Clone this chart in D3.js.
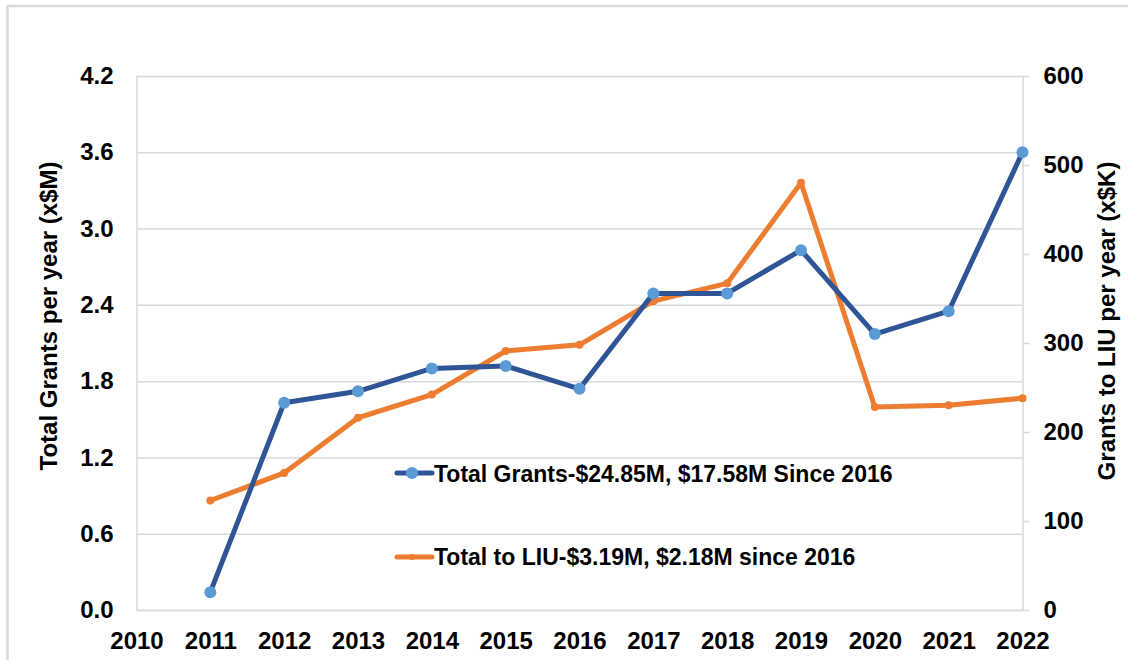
<!DOCTYPE html>
<html>
<head>
<meta charset="utf-8">
<script src="https://cdn.jsdelivr.net/npm/d3@7"></script>
<style>
  html, body { margin: 0; padding: 0; background: #fff; }
  svg { display: block; font-family: "Liberation Sans", Arial, sans-serif; }
</style>
</head>
<body>
<svg id="chart" width="1128" height="660"></svg>
<script>
// ---- Data ----
const years = [2011, 2012, 2013, 2014, 2015, 2016, 2017, 2018, 2019, 2020, 2021, 2022];
const totalGrants = [0.14, 1.63, 1.72, 1.90, 1.92, 1.74, 2.49, 2.49, 2.83, 2.17, 2.35, 3.60]; // x$M
const liuGrants = [123, 154, 216, 242, 291, 298, 347, 367, 480, 228, 230, 238]; // x$K
const xTicks = [2010, 2011, 2012, 2013, 2014, 2015, 2016, 2017, 2018, 2019, 2020, 2021, 2022];
const leftTicks = [0, 0.6, 1.2, 1.8, 2.4, 3.0, 3.6, 4.2];
const rightTicks = [0, 100, 200, 300, 400, 500, 600];
const seriesNames = ["Total Grants-$24.85M, $17.58M Since 2016", "Total to LIU-$3.19M, $2.18M since 2016"];
const leftTitle = "Total Grants per year (x$M)";
const rightTitle = "Grants to LIU per year (x$K)";

// ---- Layout ----
const svg = d3.select("#chart");
const L = 136.5, R = 1022.5, T = 76, B = 610;
const grid = "#d9d9d9";
const blue = "#2F5597", blueMk = "#5B9BD5", orange = "#ED7D31";

const x = d3.scaleLinear().domain([2010, 2022]).range([L, R]);
const yL = d3.scaleLinear().domain([0, 4.2]).range([B, T]);
const yR = d3.scaleLinear().domain([0, 600]).range([B, T]);

// outer frame
svg.append("rect").attr("x", 7.5).attr("y", 6).attr("width", 1200).attr("height", 700)
  .attr("fill", "none").attr("stroke", "#d9d9d9").attr("stroke-width", 2.5);

// gridlines
svg.append("g").attr("transform", `translate(${L},0)`)
  .call(d3.axisLeft(yL).tickValues(leftTicks).tickSize(-(R - L)).tickFormat(""))
  .call(g => g.select(".domain").remove())
  .call(g => g.selectAll("line").attr("stroke", grid).attr("stroke-width", 1.5));

// left axis
svg.append("g").attr("transform", `translate(${L},0)`)
  .call(d3.axisLeft(yL).tickValues(leftTicks).tickSize(0).tickPadding(23).tickFormat(d3.format(".1f")))
  .call(g => g.select(".domain").attr("stroke", grid).attr("stroke-width", 1.5))
  .call(g => g.selectAll("text").attr("font-size", 24).attr("font-weight", "bold").attr("fill", "#000")
    .attr("font-family", "Liberation Sans, Arial, sans-serif"));

// right axis
svg.append("g").attr("transform", `translate(${R},0)`)
  .call(d3.axisRight(yR).tickValues(rightTicks).tickSize(7).tickSizeOuter(0).tickPadding(14))
  .call(g => g.select(".domain").attr("stroke", grid).attr("stroke-width", 1.5))
  .call(g => g.selectAll("line").attr("stroke", grid).attr("stroke-width", 1.5))
  .call(g => g.selectAll("text").attr("font-size", 24).attr("font-weight", "bold").attr("fill", "#000")
    .attr("font-family", "Liberation Sans, Arial, sans-serif"));

// bottom axis
svg.append("g").attr("transform", `translate(0,${B})`)
  .call(d3.axisBottom(x).tickValues(xTicks).tickSize(0).tickPadding(22).tickFormat(d3.format("d")))
  .call(g => g.select(".domain").attr("stroke", grid).attr("stroke-width", 1.5))
  .call(g => g.selectAll("text").attr("font-size", 24).attr("font-weight", "bold").attr("fill", "#000")
    .attr("font-family", "Liberation Sans, Arial, sans-serif"));

// axis titles
svg.append("text").attr("transform", "translate(48,316) rotate(-90)")
  .attr("text-anchor", "middle").attr("dominant-baseline", "central")
  .attr("font-size", 24).attr("font-weight", "bold").text(leftTitle);
svg.append("text").attr("transform", "translate(1106,321) rotate(-90)")
  .attr("text-anchor", "middle").attr("dominant-baseline", "central")
  .attr("font-size", 24).attr("font-weight", "bold").text(rightTitle);

// orange series (right axis)
const lineR = d3.line().x((d, i) => x(years[i])).y(d => yR(d));
svg.append("path").datum(liuGrants).attr("d", lineR)
  .attr("fill", "none").attr("stroke", orange).attr("stroke-width", 5).attr("stroke-linejoin", "round");
svg.append("g").selectAll("circle").data(liuGrants).join("circle")
  .attr("cx", (d, i) => x(years[i])).attr("cy", d => yR(d)).attr("r", 4).attr("fill", orange);

// blue series (left axis)
const lineL = d3.line().x((d, i) => x(years[i])).y(d => yL(d));
svg.append("path").datum(totalGrants).attr("d", lineL)
  .attr("fill", "none").attr("stroke", blue).attr("stroke-width", 5).attr("stroke-linejoin", "round");
svg.append("g").selectAll("circle").data(totalGrants).join("circle")
  .attr("cx", (d, i) => x(years[i])).attr("cy", d => yL(d)).attr("r", 6).attr("fill", blueMk);

// legend
const legend = [
  { name: seriesNames[0], color: blue, mk: blueMk, r: 6, y: 473, ty: 482 },
  { name: seriesNames[1], color: orange, mk: orange, r: 3, y: 557, ty: 565 }
];
const lg = svg.append("g");
legend.forEach(d => {
  lg.append("line").attr("x1", 397).attr("x2", 432).attr("y1", d.y).attr("y2", d.y)
    .attr("stroke", d.color).attr("stroke-width", 5).attr("stroke-linecap", "round");
  lg.append("circle").attr("cx", 412).attr("cy", d.y).attr("r", d.r).attr("fill", d.mk);
  lg.append("text").attr("x", 434).attr("y", d.ty).attr("font-size", 23).attr("font-weight", "bold")
    .attr("fill", "#000").text(d.name);
});
</script>
</body>
</html>
